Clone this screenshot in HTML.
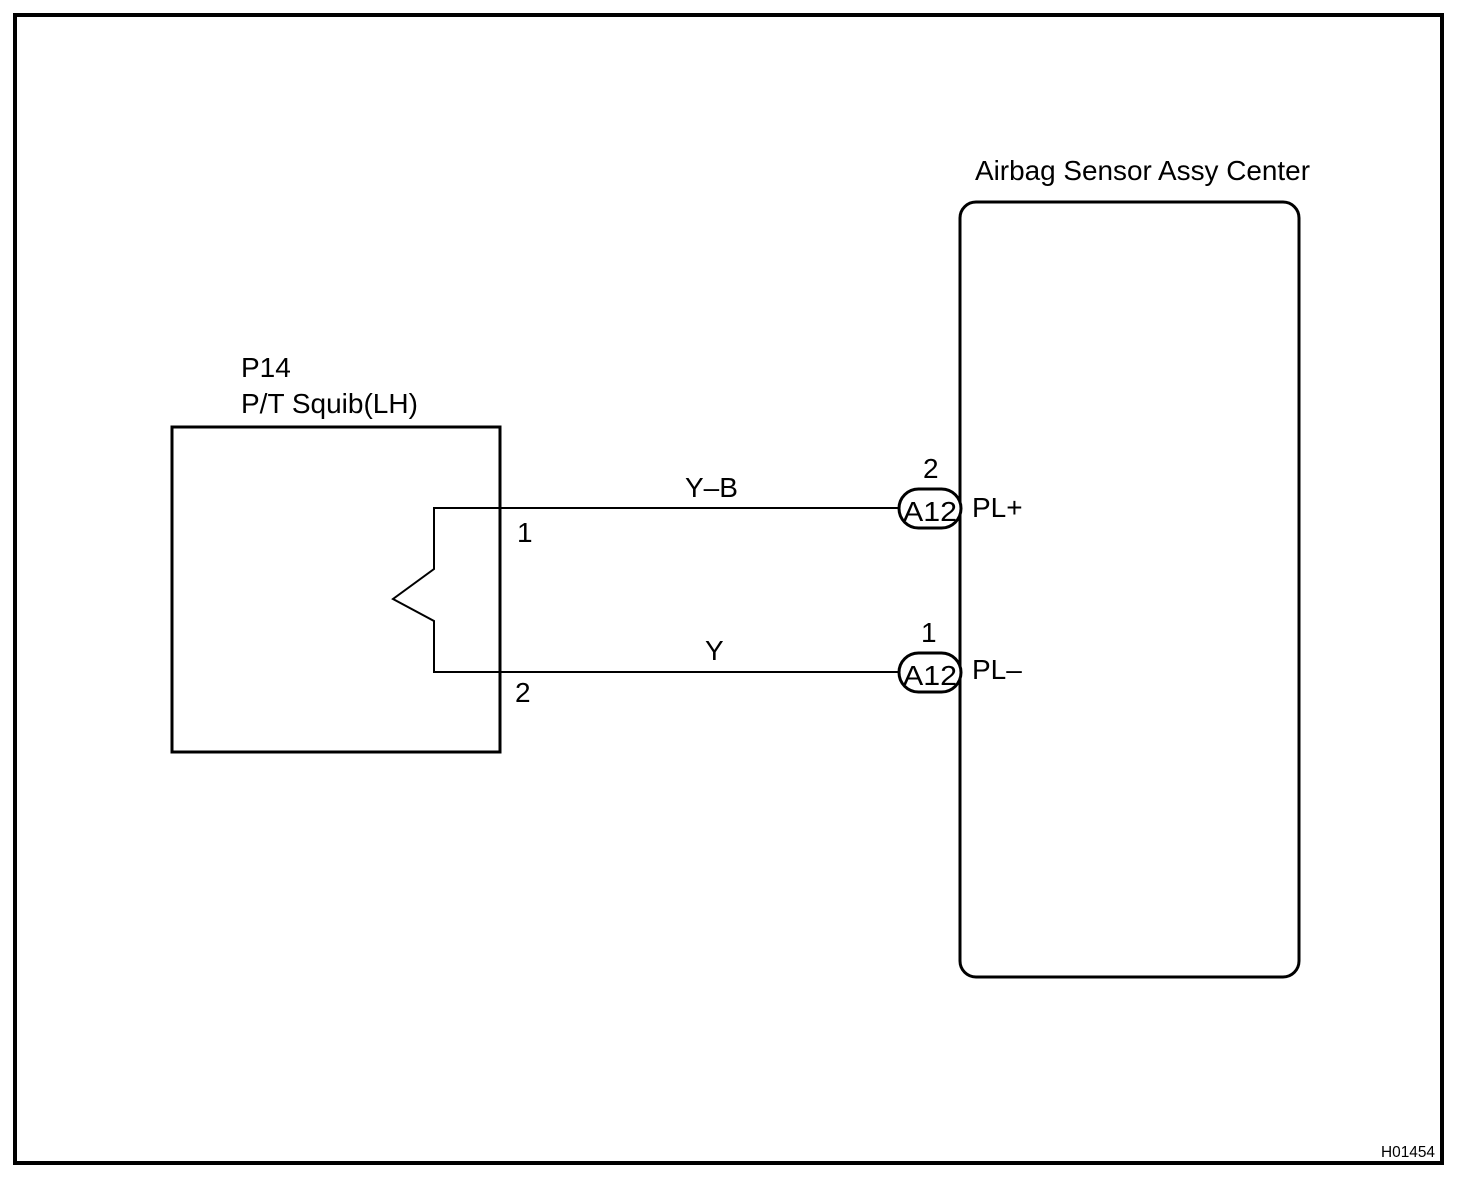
<!DOCTYPE html>
<html><head><style>html,body{margin:0;padding:0;background:#fff}</style></head>
<body>
<svg width="1472" height="1186" viewBox="0 0 1472 1186" xmlns="http://www.w3.org/2000/svg" style="display:block">
<rect x="15" y="15" width="1427" height="1148" fill="none" stroke="#000" stroke-width="4"/>
<rect x="172" y="427" width="328" height="325" fill="none" stroke="#000" stroke-width="3"/>
<rect x="960" y="202" width="339" height="775" rx="16" fill="none" stroke="#000" stroke-width="3"/>
<polyline points="900,508 434,508 434,569 393,599 434,621 434,672 900,672" fill="none" stroke="#000" stroke-width="2"/>
<rect x="899" y="489" width="62" height="39" rx="19.5" fill="#fff" stroke="#000" stroke-width="3"/>
<rect x="899" y="653" width="62" height="39" rx="19.5" fill="#fff" stroke="#000" stroke-width="3"/>
<g font-family="Liberation Sans, sans-serif" font-size="28" fill="#000">
<text x="975" y="180" textLength="335" lengthAdjust="spacingAndGlyphs">Airbag Sensor Assy Center</text>
<text x="241" y="377">P14</text>
<text x="241" y="413">P/T Squib(LH)</text>
<text x="685" y="497">Y–B</text>
<text x="705" y="660">Y</text>
<text x="517" y="542">1</text>
<text x="515" y="702">2</text>
<text x="923" y="478">2</text>
<text x="921" y="642">1</text>
<text x="972" y="517">PL+</text>
<text x="972" y="679">PL–</text>
<text x="903" y="521" textLength="54" lengthAdjust="spacingAndGlyphs">A12</text>
<text x="903" y="685" textLength="54" lengthAdjust="spacingAndGlyphs">A12</text>
</g>
<text x="1381" y="1157" font-family="Liberation Sans, sans-serif" font-size="16" textLength="54" lengthAdjust="spacingAndGlyphs">H01454</text>
</svg>
</body></html>
